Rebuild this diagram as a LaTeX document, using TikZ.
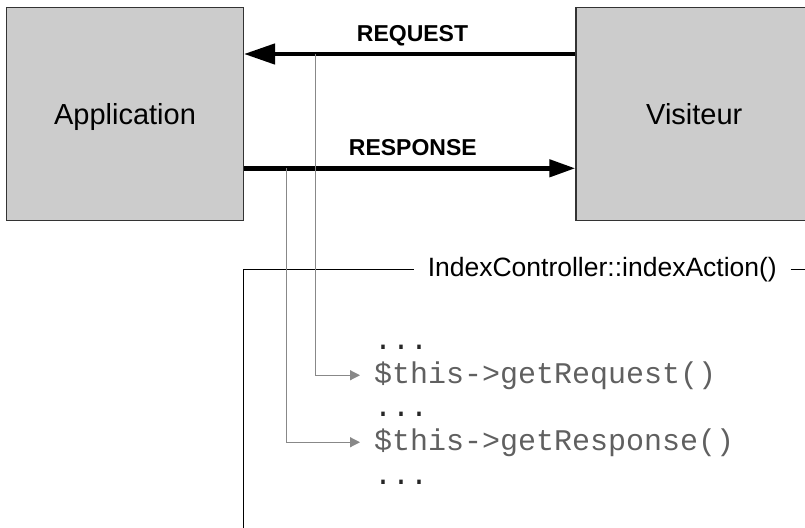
\documentclass[tikz,border=0pt]{standalone}
\usepackage{fontspec}
\setmainfont{Liberation Sans}
\setmonofont{Liberation Mono}
\usetikzlibrary{arrows.meta}
\definecolor{boxfill}{HTML}{CCCCCC}
\definecolor{boxline}{HTML}{333333}
\definecolor{conngray}{HTML}{888888}
\definecolor{codegray}{HTML}{606060}
\tikzset{
  bigbox/.style={draw=boxline, line width=1.4pt, fill=boxfill, minimum width=236.6pt, minimum height=213.2pt, inner sep=0pt, text depth=0pt, font=\fontsize{29}{34}\selectfont},
  biglabel/.style={font=\fontsize{23}{27}\selectfont\bfseries, anchor=base, inner sep=0pt},
  reqarrow/.style={line width=4.5pt, -{Triangle[length=31pt,width=20pt]}},
  resarrow/.style={line width=4.5pt, -{Triangle[length=26pt,width=17pt]}},
  conn/.style={draw=conngray, line width=1.2pt, -{Triangle[length=10pt,width=10pt]}},
  codeline/.style={font=\fontsize{30}{34}\ttfamily, text=codegray, anchor=base west, inner xsep=14pt, inner ysep=0pt},
  dotline/.style={font=\fontsize{30}{34}\ttfamily, text=black!85, anchor=base west, inner xsep=14pt, inner ysep=0pt},
  framelabel/.style={font=\fontsize{26.5}{31}\selectfont, anchor=base, inner xsep=13.5pt, inner ysep=0pt},
  frameline/.style={draw=black, line width=1.2pt}
}
\begin{document}
\begin{tikzpicture}[x=1pt,y=-1pt]
\useasboundingbox (0,0) rectangle (805,527);
\clip (0,0) rectangle (805,527);
\node[bigbox] (app) at (125,113.9) {Application};
\node[bigbox] (vis) at (694.3,113.9) {Visiteur};
\coordinate (reqy) at (0,54);
\coordinate (resy) at (0,168.3);
\draw[reqarrow] (vis.west |- reqy) -- (app.east |- reqy);
\draw[resarrow] (app.east |- resy) -- (vis.west |- resy);
\node[biglabel] (reqlbl) at (412.5,41.7) {REQUEST};
\node[biglabel] (reslbl) at (412.8,155) {RESPONSE};
% frame
\node[framelabel] (ictl) at (602.3,276.7) {IndexController::indexAction()};
\coordinate (fbot) at (243.3,530);
\coordinate (fright) at (812,269.3);
\draw[frameline] (fbot) |- (ictl.west);
\draw[frameline] (ictl.east) -- (fright |- ictl.east);
% code
\node[dotline] (d1) at (360,349) {...};
\node[codeline] (c1) at (360,383) {\$this->getRequest()};
\node[dotline] (d2) at (360,416.5) {...};
\node[codeline] (c2) at (360,450) {\$this->getResponse()};
\node[dotline] (d3) at (360,484) {...};
% connectors
\coordinate (rq) at (315.3,54);
\coordinate (rs) at (286.3,168.3);
\draw[conn] (rq) |- (c1.west);
\draw[conn] (rs) |- (c2.west);
\end{tikzpicture}
\end{document}
